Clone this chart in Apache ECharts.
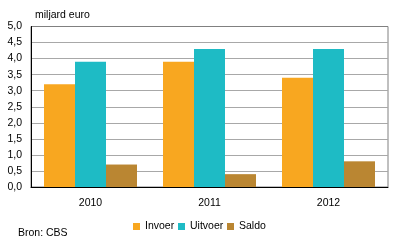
<!DOCTYPE html>
<html><head><meta charset="utf-8">
<script src="https://cdn.jsdelivr.net/npm/echarts@6/dist/echarts.min.js"></script>
<style>html,body{margin:0;padding:0;background:#fff}#c{width:396px;height:252px}</style>
</head><body><div id="c"></div>
<script>
const categories = ['2010', '2011', '2012'];
const invoer = [3.2, 3.9, 3.4];
const uitvoer = [3.9, 4.3, 4.3];
const saldo = [0.7, 0.4, 0.8];
const seriesNames = ['Invoer', 'Uitvoer', 'Saldo'];
const colors = ['#F8A720', '#1EBBC5', '#BA8632'];
const font = 'Liberation Sans, Arial, sans-serif';
const fs = 10.5;
const chart = echarts.init(document.getElementById('c'), null, {renderer: 'canvas'});
const gridColors = [];
for (let i = 0; i < 10; i++) gridColors.push('#a8a8a8');
gridColors.push('#808080');
const legendLefts = [133, 178, 227];
chart.setOption({
  animation: false,
  textStyle: {fontFamily: font},
  title: [
    {text: 'miljard euro', left: 35, top: 10, padding: 0, textStyle: {fontSize: fs, fontWeight: 'normal', color: '#000', fontFamily: font}},
    {text: 'Bron: CBS', left: 18, top: 228, padding: 0, textStyle: {fontSize: fs, fontWeight: 'normal', color: '#000', fontFamily: font}}
  ],
  legend: seriesNames.map((n, i) => ({
    data: [n], left: legendLefts[i], top: 221, padding: 0, itemWidth: 7, itemHeight: 7,
    icon: 'rect', textStyle: {fontSize: fs, color: '#000', fontFamily: font}
  })),
  grid: {left: 31, right: 8, top: 26.5, bottom: 65, show: true, borderColor: '#808080', borderWidth: 1},
  xAxis: {
    type: 'category', data: categories,
    axisLine: {lineStyle: {color: '#000', width: 1}},
    axisTick: {show: false},
    axisLabel: {color: '#000', fontSize: fs, margin: 11, fontFamily: font}
  },
  yAxis: {
    type: 'value', min: 0, max: 5, interval: 0.5,
    axisLine: {show: true, lineStyle: {color: '#000', width: 1}},
    axisTick: {show: false},
    splitLine: {lineStyle: {color: gridColors, width: 1}},
    axisLabel: {color: '#000', fontSize: fs, margin: 9, fontFamily: font,
      formatter: v => v.toFixed(1).replace('.', ',')}
  },
  series: [
    {name: seriesNames[0], type: 'bar', data: invoer, itemStyle: {color: colors[0]}, barWidth: 31, barGap: '0%'},
    {name: seriesNames[1], type: 'bar', data: uitvoer, itemStyle: {color: colors[1]}, barWidth: 31, barGap: '0%'},
    {name: seriesNames[2], type: 'bar', data: saldo, itemStyle: {color: colors[2]}, barWidth: 31, barGap: '0%'}
  ]
});
</script></body></html>
